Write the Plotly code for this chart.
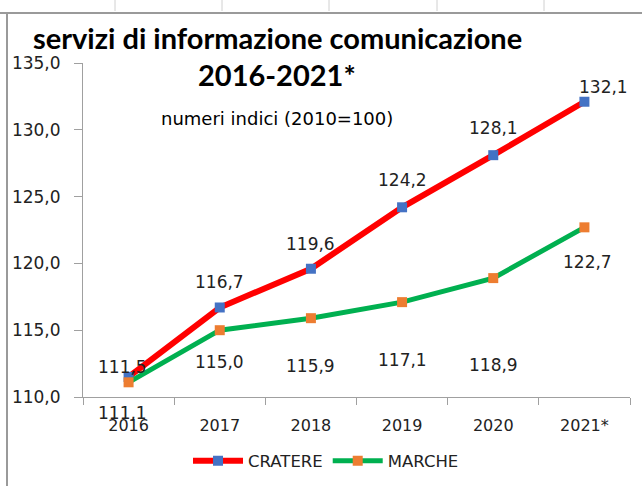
import plotly.graph_objects as go

years = ["2016", "2017", "2018", "2019", "2020", "2021*"]
cratere = [111.5, 116.7, 119.6, 124.2, 128.1, 132.1]
marche = [111.1, 115.0, 115.9, 117.1, 118.9, 122.7]
y_ticks = [110, 115, 120, 125, 130, 135]

W, H = 642, 486
L, R, T, B = 83, 12, 63, 89   # plot area in pixels
PW, PH = W - L - R, H - T - B

def px(x):
    return (x - L) / PW

def py(y):
    return (H - B - y) / PH

TFONT = "Lato, Carlito, Calibri, sans-serif"
FONT = "DejaVu Sans, Verdana, sans-serif"

fig = go.Figure()
fig.add_trace(go.Scatter(x=years, y=cratere, name="CRATERE", mode="lines+markers",
                         line=dict(color="#FF0000", width=6),
                         marker=dict(symbol="square", size=10, color="#4472C4")))
fig.add_trace(go.Scatter(x=years, y=marche, name="MARCHE", mode="lines+markers",
                         line=dict(color="#00B050", width=5),
                         marker=dict(symbol="square", size=10, color="#ED7D31")))

# data labels, placed like the excel original
c_shift = [(-6, 10), (0, 25), (0, 25), (0, 27), (0, 27), (19, 15)]
m_shift = [(-6, -31), (0, -32), (0, -48), (0, -58), (0, -87), (3, -35)]
for vals, shifts in [(cratere, c_shift), (marche, m_shift)]:
    for i, (v, (dx, dy)) in enumerate(zip(vals, shifts)):
        fig.add_annotation(x=i, y=v, text=f"{v:.1f}".replace(".", ","),
                           showarrow=False, xshift=dx, yshift=dy,
                           xanchor="center", yanchor="middle",
                           font=dict(size=17, color="#222222", family=FONT))

# titles
def title_note(text, x, y, size, family):
    fig.add_annotation(x=px(x), y=py(y), xref="paper", yref="paper", showarrow=False,
                       xanchor="center", yanchor="middle", text=text,
                       font=dict(size=size, color="black", family=family))

title_note("<b>servizi di informazione comunicazione</b>", 277, 38, 29, TFONT)
title_note("<b>2016-2021*</b>", 277, 75, 29, TFONT)
title_note("numeri indici (2010=100)", 277, 118, 18, FONT)

# spreadsheet frame
shapes = [
    dict(type="line", xref="paper", yref="paper", x0=px(0), x1=px(W), y0=py(13), y1=py(13),
         line=dict(color="#9a9a9a", width=2)),
    dict(type="line", xref="paper", yref="paper", x0=px(7), x1=px(7), y0=py(13), y1=py(H),
         line=dict(color="#9a9a9a", width=2)),
]
for xc in [115, 222, 329, 437, 544]:
    shapes.append(dict(type="line", xref="paper", yref="paper", x0=px(xc), x1=px(xc),
                       y0=py(0), y1=py(11), line=dict(color="#d0d0d0", width=1)))
fig.update_layout(shapes=shapes)

fig.update_layout(
    width=W, height=H,
    margin=dict(l=L, r=R, t=T, b=B, autoexpand=False),
    paper_bgcolor="white", plot_bgcolor="white",
    separators=",.",
    font=dict(family=FONT, size=16, color="#222222"),
    showlegend=True,
    legend=dict(orientation="h", x=px(326), y=py(461), xanchor="center", yanchor="middle",
                font=dict(size=16.5, color="#222222"), itemwidth=50),
    xaxis=dict(type="category", range=[-0.5, 5.5], tickson="boundaries",
               ticks="outside", ticklen=7, tickcolor="#a0a0a0", ticklabelstandoff=14,
               showline=True, linecolor="#a0a0a0", linewidth=1, automargin=False,
               showgrid=False, tickfont=dict(size=16)),
    yaxis=dict(range=[110, 135], tickvals=y_ticks, tickformat=".1f",
               ticks="outside", ticklen=8, tickcolor="#a0a0a0", ticklabelstandoff=10,
               showline=True, linecolor="#a0a0a0", linewidth=1, automargin=False,
               showgrid=False, zeroline=False, tickfont=dict(size=17)),
)

fig.write_html("out.html", config={"displayModeBar": False},
               post_script="document.body.style.margin='0px';")
